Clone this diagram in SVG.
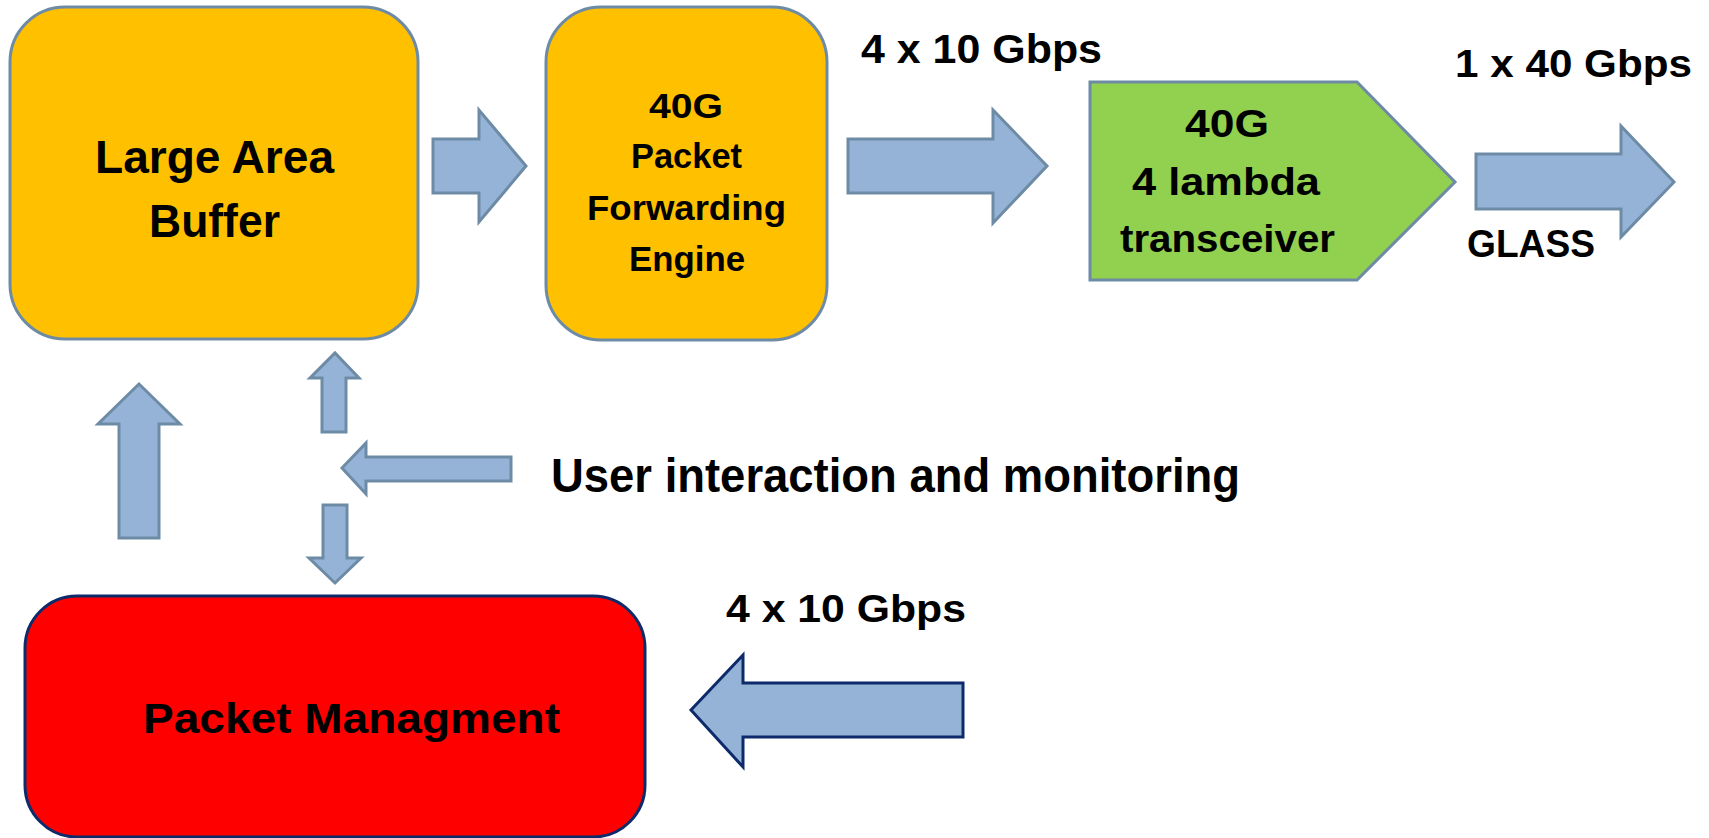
<svg xmlns="http://www.w3.org/2000/svg" width="1709" height="838" viewBox="0 0 1709 838">
  <style>
    .lbl { font-family: "Liberation Sans", Arial, sans-serif; font-weight: bold; fill: #000; }
    .box { stroke: #6E8BA6; stroke-width: 3; }
    .arrow { fill: #95B3D7; stroke: #6E8BA6; stroke-width: 3; stroke-linejoin: miter; }
    .arrow-dark { fill: #95B3D7; stroke: #0D2B6B; stroke-width: 3; }
  </style>
  <rect width="1709" height="838" fill="#FFFFFF"/>

  <!-- buffer block -->
  <g id="large-area-buffer">
    <rect class="box" x="10" y="7" width="408" height="332" rx="55" ry="55" fill="#FFC000"/>
    <text class="lbl" x="95" y="173" font-size="46" textLength="239" lengthAdjust="spacingAndGlyphs">Large Area</text>
    <text class="lbl" x="149" y="237" font-size="46" textLength="131" lengthAdjust="spacingAndGlyphs">Buffer</text>
  </g>

  <!-- forwarding engine -->
  <g id="forwarding-engine">
    <rect class="box" x="546" y="7" width="281" height="333" rx="55" ry="55" fill="#FFC000"/>
    <text class="lbl" x="649" y="118" font-size="35" textLength="74" lengthAdjust="spacingAndGlyphs">40G</text>
    <text class="lbl" x="631" y="168" font-size="35" textLength="111" lengthAdjust="spacingAndGlyphs">Packet</text>
    <text class="lbl" x="587" y="220" font-size="35" textLength="199" lengthAdjust="spacingAndGlyphs">Forwarding</text>
    <text class="lbl" x="629" y="271" font-size="35" textLength="116" lengthAdjust="spacingAndGlyphs">Engine</text>
  </g>

  <!-- optical transceiver -->
  <g id="transceiver">
    <polygon class="box" points="1090,82 1357,82 1455,182 1357,280 1090,280" fill="#92D050"/>
    <text class="lbl" x="1185" y="137" font-size="38" textLength="84" lengthAdjust="spacingAndGlyphs">40G</text>
    <text class="lbl" x="1132" y="195" font-size="38" textLength="188" lengthAdjust="spacingAndGlyphs">4 lambda</text>
    <text class="lbl" x="1120" y="252" font-size="38" textLength="215" lengthAdjust="spacingAndGlyphs">transceiver</text>
  </g>

  <!-- packet management -->
  <g id="packet-management">
    <rect x="25" y="596" width="620" height="241" rx="52" ry="52" fill="#FF0000" stroke="#0D2B6B" stroke-width="3"/>
    <text class="lbl" x="143" y="733" font-size="43" textLength="417" lengthAdjust="spacingAndGlyphs">Packet Managment</text>
  </g>

  <!-- block arrows -->
  <g id="connectors">
    <polygon class="arrow" points="433,139 479,139 479,110 526,166 479,222 479,193 433,193"/>
    <polygon class="arrow" points="848,139 993,139 993,110 1047,166 993,223 993,193 848,193"/>
    <polygon class="arrow" points="1476,154 1621,154 1621,126 1674,182 1621,237 1621,209 1476,209"/>
    <polygon class="arrow" points="119,538 119,424 98,424 139,384 180,424 159,424 159,538"/>
    <polygon class="arrow" points="322,432 322,378 310,378 335,353 359,378 346,378 346,432"/>
    <polygon class="arrow" points="511,457 366,457 366,443 342,468 366,494 366,481 511,481"/>
    <polygon class="arrow" points="323,505 347,505 347,558 361,558 335,583 309,558 323,558"/>
    <polygon class="arrow-dark" points="963,683 743,683 743,655 691,710 743,767 743,737 963,737"/>
  </g>

  <!-- link labels -->
  <g id="labels">
    <text class="lbl" x="861" y="63" font-size="40" textLength="241" lengthAdjust="spacingAndGlyphs">4 x 10 Gbps</text>
    <text class="lbl" x="1455" y="77" font-size="39" textLength="237" lengthAdjust="spacingAndGlyphs">1 x 40 Gbps</text>
    <text class="lbl" x="1467" y="257" font-size="38" textLength="128" lengthAdjust="spacingAndGlyphs">GLASS</text>
    <text class="lbl" x="551" y="492" font-size="48" textLength="689" lengthAdjust="spacingAndGlyphs">User interaction and monitoring</text>
    <text class="lbl" x="726" y="622" font-size="39" textLength="240" lengthAdjust="spacingAndGlyphs">4 x 10 Gbps</text>
  </g>
</svg>
